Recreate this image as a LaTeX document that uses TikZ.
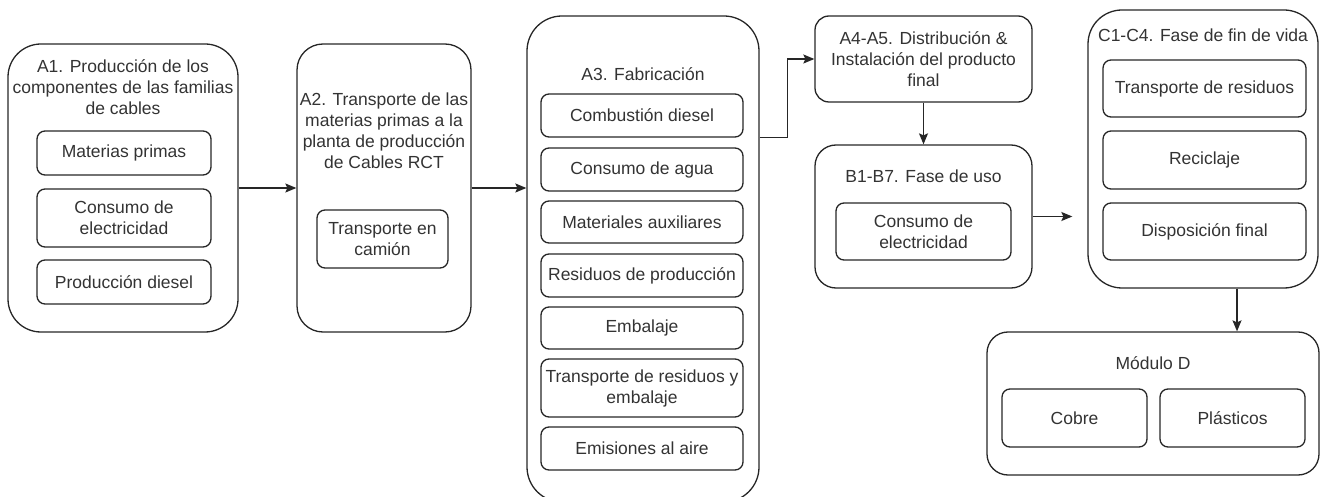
\documentclass[tikz,border=0pt]{standalone}
\usepackage{fontspec}
\setmainfont{Liberation Sans}
\usetikzlibrary{arrows.meta, positioning, calc}

\begin{document}
\begin{tikzpicture}[
  x=1pt, y=-1pt,
  every node/.style={font=\fontsize{17.5}{21}\selectfont, text=black!80},
  phase/.style={rectangle, draw=black!85, line width=1.3pt, rounded corners=#1,
                inner sep=0pt},
  phase/.default=30pt,
  item/.style={rectangle, draw=black!85, line width=1.3pt, rounded corners=8pt,
               align=center, inner sep=0pt},
  title/.style={align=center, inner sep=0pt},
  flow/.style={-{Stealth[length=11pt, width=9pt, inset=2pt]}, line width=1.3pt, draw=black!85},
]
\useasboundingbox (0,0) rectangle (1320,497);

% ---- A1 ----
\node[phase=33pt, minimum width=230pt, minimum height=288pt] (a1) at (123,188) {};
\node[title] (a1t) at (123,87) {A1. Producción de los\\componentes de las familias\\de cables};
\node[item, minimum width=174pt, minimum height=44pt] (a1m) at (124,153) {Materias primas};
\node[item, minimum width=174pt, minimum height=58pt] (a1e) at (124,218) {Consumo de\\electricidad};
\node[item, minimum width=174pt, minimum height=44pt] (a1d) at (124,282) {Producción diesel};

% ---- A2 ----
\node[phase=26pt, minimum width=174pt, minimum height=288pt] (a2) at (384,188) {};
\node[title] (a2t) at (384,131) {A2. Transporte de las\\materias primas a la\\planta de producción\\de Cables RCT};
\node[item, minimum width=131pt, minimum height=58pt] (a2c) at (382.5,239) {Transporte en\\camión};

% ---- A3 ----
\node[phase=35pt, minimum width=232pt, minimum height=486pt] (a3) at (643,259) {};
\node[title] (a3t) at (643,74) {A3. Fabricación};
\node[item, minimum width=202pt, minimum height=43pt] (comb) at (642,115.5) {Combustión diesel};
\node[item, minimum width=202pt, minimum height=43pt] (agua) at (642,169.5) {Consumo de agua};
\node[item, minimum width=202pt, minimum height=42pt] (aux)  at (642,222) {Materiales auxiliares};
\node[item, minimum width=202pt, minimum height=43pt] (resp) at (642,275.5) {Residuos de producción};
\node[item, minimum width=202pt, minimum height=42pt] (emb)  at (642,328) {Embalaje};
\node[item, minimum width=202pt, minimum height=58pt] (tre)  at (642,388) {Transporte de residuos y\\embalaje};
\node[item, minimum width=202pt, minimum height=43pt] (emi)  at (642,448.5) {Emisiones al aire};

% ---- A4-A5 ----
\node[phase=14pt, minimum width=217pt, minimum height=86pt, align=center] (a4) at (923.5,59)
  {A4-A5. Distribución \&\\Instalación del producto\\final};

% ---- B1-B7 ----
\node[phase=21pt, minimum width=217pt, minimum height=143pt] (b1) at (923.5,216.5) {};
\node[title] (b1t) at (923.5,176) {B1-B7. Fase de uso};
\node[item, minimum width=175pt, minimum height=57pt] (b1e) at (923.5,231.5) {Consumo de\\electricidad};

% ---- C1-C4 ----
\node[phase=34pt, minimum width=230pt, minimum height=278pt] (c) at (1203,149) {};
\node[title] (ct) at (1203,35) {C1-C4. Fase de fin de vida};
\node[item, minimum width=203pt, minimum height=57pt] (ctr) at (1204.5,88.5) {Transporte de residuos};
\node[item, minimum width=203pt, minimum height=58pt] (crc) at (1204.5,160) {Reciclaje};
\node[item, minimum width=203pt, minimum height=57pt] (cdf) at (1204.5,231.5) {Disposición final};

% ---- D ----
\node[phase=21pt, minimum width=332pt, minimum height=143pt] (d) at (1153,403.5) {};
\node[title] (dt) at (1153,363) {Módulo D};
\node[item, minimum width=145pt, minimum height=58pt] (dcu) at (1074.5,418) {Cobre};
\node[item, minimum width=145pt, minimum height=58pt] (dpl) at (1232.5,418) {Plásticos};

% ---- flechas ----
\draw[flow] (a1.east |- a2) -- (a2.west);
\draw[flow] (a2.east) -- (a2.east -| a3.west);
\draw[flow] (a3.east |- comb.south) -- ++(28,0) |- (a4.west);
\draw[flow] (a4.south) -- (b1.north);
\draw[flow, shorten >=15pt] (b1.east) -- (b1.east -| c.west);
\draw[flow] (c.south) ++(34,0) coordinate (cd) -- (cd |- d.north);

\end{tikzpicture}
\end{document}
